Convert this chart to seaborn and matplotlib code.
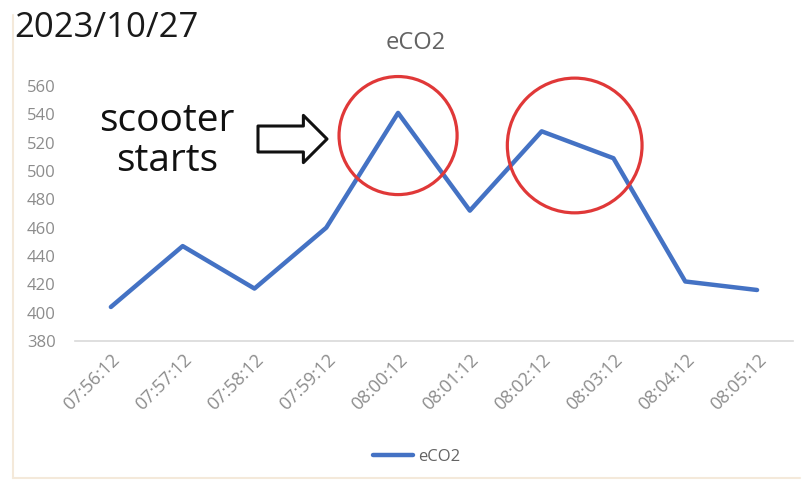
import matplotlib
matplotlib.use("Agg")
import matplotlib.pyplot as plt
from matplotlib.lines import Line2D
import pandas as pd
import seaborn as sns

# eCO2 readings, one per minute
times = ["07:56:12", "07:57:12", "07:58:12", "07:59:12", "08:00:12",
         "08:01:12", "08:02:12", "08:03:12", "08:04:12", "08:05:12"]
eco2 = [404, 447, 417, 460, 541, 472, 528, 509, 422, 416]
y_ticks = [380, 400, 420, 440, 460, 480, 500, 520, 540, 560]

# highlighted regions (category position, value, marker diameter in pt)
highlight_x = [4.0, 6.46]
highlight_y = [525, 518]
highlight_d = [85, 97]

sns.set_theme(style="white")
plt.rcParams["font.family"] = ["Open Sans", "DejaVu Sans"]

df = pd.DataFrame({"time": times, "eCO2": eco2})

fig = plt.figure(figsize=(8.07, 4.83), dpi=100)
ax = fig.add_axes([0.0929, 0.294, 0.8897, 0.528])

line_color = "#4472C4"
sns.lineplot(data=df, x="time", y="eCO2", ax=ax, color=line_color,
             linewidth=3.2, sort=False, label="eCO2", legend=False)

ax.set_xlim(-0.5, len(times) - 0.5)
ax.set_ylim(y_ticks[0], y_ticks[-1])
ax.set_yticks(y_ticks)
ax.set_xlabel("")
ax.set_ylabel("")

grey = "#8c8c8c"
ax.tick_params(axis="y", length=0, colors=grey, labelsize=12, pad=14)
ax.tick_params(axis="x", length=0, colors=grey, labelsize=13, pad=7)
for lbl in ax.get_xticklabels():
    lbl.set_rotation(45)
    lbl.set_ha("right")
    lbl.set_rotation_mode("anchor")

for side in ["top", "left", "right"]:
    ax.spines[side].set_visible(False)
ax.spines["bottom"].set_color("#d9d9d9")
ax.spines["bottom"].set_linewidth(1.2)

# red circles around the peaks
for hx, hy, hd in zip(highlight_x, highlight_y, highlight_d):
    ax.scatter([hx], [hy], s=hd ** 2, facecolors="none",
               edgecolors="#e03838", linewidths=2.3, clip_on=False, zorder=5)

# chart title and date
fig.text(416 / 807, 1 - 43 / 483, "eCO2", ha="center", va="center",
         fontsize=17, color="#636363")
fig.text(14 / 807, 1 - 28 / 483, "2023/10/27", ha="left", va="center",
         fontsize=25, color="#1a1a1a")

# annotation text and outlined arrow
fig.text(167 / 807, 1 - 141 / 483, "scooter\nstarts", ha="center",
         va="center", fontsize=28, color="#111111", linespacing=1.05)
ax.annotate("", xy=(327, 483 - 139), xycoords="figure pixels",
            xytext=(258, 483 - 139), textcoords="figure pixels",
            arrowprops=dict(arrowstyle="simple,head_length=0.5,head_width=1.0,tail_width=0.55",
                            mutation_scale=34, facecolor="white",
                            edgecolor="#111111", linewidth=2.2,
                            shrinkA=0, shrinkB=0))

# legend at the bottom
handle = Line2D([0], [0], color=line_color, linewidth=3.2)
fig.legend([handle], ["eCO2"], loc="center", bbox_to_anchor=(417 / 807, 1 - 457 / 483),
           frameon=False, fontsize=12, handlelength=2.4, handletextpad=0.3,
           labelcolor="#636363")

# faint frame of the chart area
frame_color = "#f4e9da"
fig.add_artist(Line2D([13 / 807, 13 / 807], [1 - 478 / 483, 1 - 15 / 483],
                      color=frame_color, linewidth=1.5, transform=fig.transFigure))
fig.add_artist(Line2D([13 / 807, 800 / 807], [1 - 478 / 483, 1 - 478 / 483],
                      color=frame_color, linewidth=1.5, transform=fig.transFigure))

fig.savefig("out.png", dpi=100)
